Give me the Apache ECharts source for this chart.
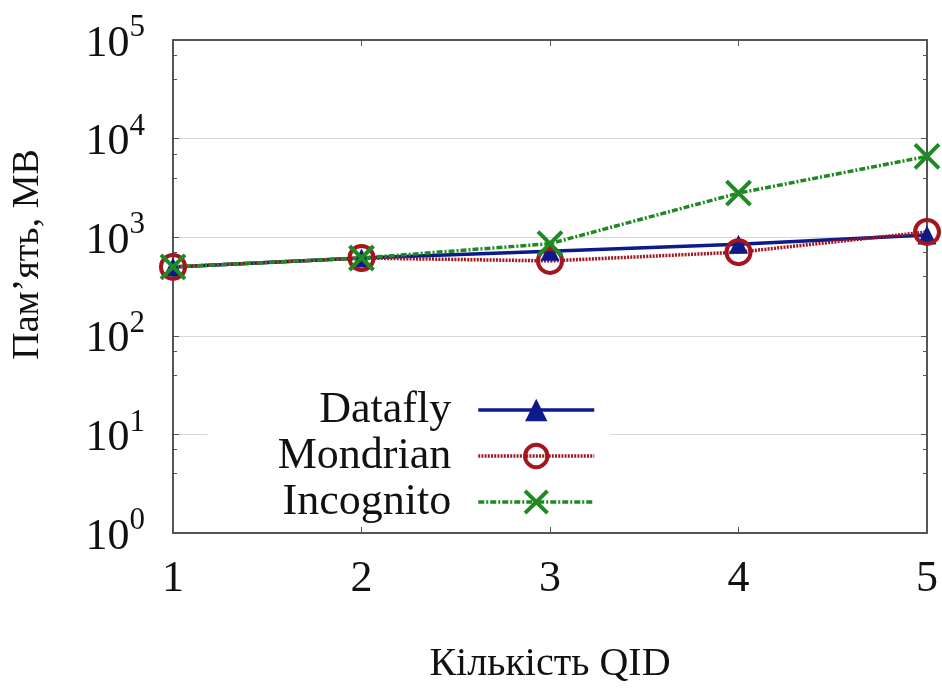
<!DOCTYPE html>
<html>
<head>
<meta charset="utf-8">
<script src="https://cdn.jsdelivr.net/npm/echarts@6/dist/echarts.min.js"></script>
<style>
  html, body { margin: 0; padding: 0; background: #fff; }
  #chart { width: 942px; height: 689px; }
</style>
</head>
<body>
<div id="chart"></div>
<script>
// кількість QID
const qid = [1, 2, 3, 4, 5];
// пам'ять, MB
const datafly = [500, 615, 720, 850, 1050];
const mondrian = [500, 615, 575, 705, 1130];
const incognito = [500, 615, 860, 2800, 6600];
const names = ['Datafly', 'Mondrian', 'Incognito'];

const FONT = 'Liberation Serif';
const pairs = (vals) => qid.map((q, i) => [q, vals[i]]);

const chart = echarts.init(document.getElementById('chart'));

const option = {
  backgroundColor: '#fff',
  animation: false,
  grid: { left: 173, right: 15, top: 40, bottom: 154 },
  legend: {
    orient: 'vertical',
    align: 'right',
    right: 332,
    top: 386,
    padding: [2, 14, 2, 70],
    backgroundColor: '#fff',
    itemWidth: 116,
    itemHeight: 28,
    itemGap: 2,
    textStyle: { fontFamily: FONT, fontSize: 44, color: '#111', padding: [0, 22, 0, 0] },
    data: [
      { name: names[0], lineStyle: { width: 3.5 } },
      { name: names[1], lineStyle: { width: 3.5 }, itemStyle: { borderWidth: 4 } },
      { name: names[2], lineStyle: { width: 3.5 }, itemStyle: { borderWidth: 4 } }
    ]
  },
  xAxis: [{
    type: 'value',
    min: 1, max: 5, interval: 1,
    name: 'Кількість QID',
    nameLocation: 'middle',
    nameGap: 111,
    nameTextStyle: { fontFamily: FONT, fontSize: 40, color: '#111' },
    axisLine: { lineStyle: { color: '#555', width: 2 } },
    axisTick: { inside: true, length: 6, lineStyle: { color: '#555' } },
    axisLabel: { fontFamily: FONT, fontSize: 44, color: '#111', margin: 24 },
    splitLine: { show: false }
  }, {
    type: 'value',
    position: 'top',
    min: 1, max: 5, interval: 1,
    axisLine: { lineStyle: { color: '#555', width: 2 } },
    axisTick: { inside: true, length: 6, lineStyle: { color: '#555' } },
    axisLabel: { show: false },
    splitLine: { show: false }
  }],
  yAxis: [{
    type: 'log',
    logBase: 10,
    min: 1, max: 100000,
    name: 'Пам’ять, МВ',
    nameLocation: 'middle',
    nameRotate: 90,
    nameGap: 126,
    nameTextStyle: { fontFamily: FONT, fontSize: 38, color: '#111', padding: [0, 0, 0, 64] },
    axisLine: { show: true, lineStyle: { color: '#555', width: 2 } },
    axisTick: { inside: true, length: 6, lineStyle: { color: '#555' } },
    minorTick: { show: true, splitNumber: 3, length: 4, lineStyle: { color: '#555' } },
    axisLabel: {
      margin: 28,
      formatter: (v) => '{b|10}{s|' + Math.round(Math.log10(v)) + '}',
      rich: {
        b: { fontFamily: FONT, fontSize: 44, lineHeight: 44, color: '#111', padding: [8, 0, 0, 0] },
        s: { fontFamily: FONT, fontSize: 31, lineHeight: 31, color: '#111', padding: [8, 0, 32, 0] }
      }
    },
    splitLine: { show: true, lineStyle: { color: '#d8d8d8', width: 1 } }
  }, {
    type: 'log',
    logBase: 10,
    min: 1, max: 100000,
    position: 'right',
    axisLine: { show: true, lineStyle: { color: '#555', width: 2 } },
    axisTick: { inside: true, length: 6, lineStyle: { color: '#555' } },
    minorTick: { show: true, splitNumber: 3, length: 4, lineStyle: { color: '#555' } },
    axisLabel: { show: false },
    splitLine: { show: false }
  }],
  series: [{
    name: names[0],
    type: 'line',
    data: pairs(datafly),
    symbol: 'triangle',
    symbolSize: 19,
    lineStyle: { color: '#0c1a8a', width: 3.5, type: 'solid' },
    itemStyle: { color: '#0c1a8a' },
    emphasis: { disabled: true }
  }, {
    name: names[1],
    type: 'line',
    data: pairs(mondrian),
    symbol: 'circle',
    symbolSize: 24,
    lineStyle: { color: '#a3161e', width: 3.5, type: [2, 1.2] },
    itemStyle: { color: 'rgba(0,0,0,0)', borderColor: '#a3161e', borderWidth: 4 },
    emphasis: { disabled: true }
  }, {
    name: names[2],
    type: 'line',
    data: pairs(incognito),
    symbol: 'path://M0,0L10,10M10,0L0,10',
    symbolSize: 24,
    lineStyle: { color: '#1f8a24', width: 3.5, type: [6, 2, 2, 2] },
    itemStyle: { color: '#1f8a24', borderColor: '#1f8a24', borderWidth: 4 },
    emphasis: { disabled: true }
  }]
};

chart.setOption(option);
</script>
</body>
</html>
